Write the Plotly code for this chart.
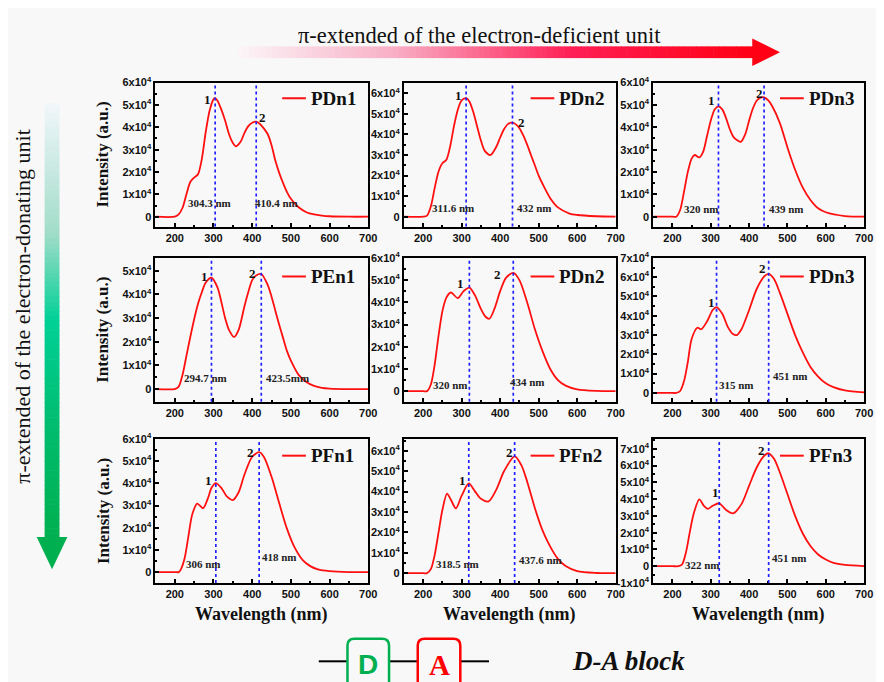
import plotly.graph_objects as go

# page body has an 8px margin: the figure is sized/shifted so that it fills the 884x682 window
OFF = 8
W, H = 884 - OFF, 682 - OFF

# ---------------- data (intensity in units of 1e4) ----------------
names = ["PDn1", "PDn2", "PDn3", "PEn1", "PDn2", "PDn3", "PFn1", "PFn2", "PFn3"]

wl_1 = [150, 200, 210, 220, 230, 240, 250, 260, 270, 280, 290, 300, 304, 310, 320, 330, 340, 350, 358, 370,
        380, 390, 400, 410, 420, 430, 440, 450, 460, 470, 480, 490, 500, 520, 540, 560, 580, 600, 650, 700]
int_1 = [0, 0, 0.1, 0.4, 1.0, 1.55, 1.75, 1.9, 2.6, 3.8, 4.75, 5.25, 5.3, 5.2, 4.8, 4.3, 3.7, 3.3, 3.15, 3.35,
         3.75, 4.05, 4.2, 4.25, 4.15, 3.95, 3.7, 3.2, 2.5, 1.95, 1.5, 1.1, 0.8, 0.42, 0.2, 0.1, 0.05, 0.02, 0, 0]

wl_2 = [150, 200, 210, 220, 230, 240, 250, 260, 270, 280, 290, 300, 311.6, 320, 330, 340, 350, 360, 375, 390,
        400, 410, 420, 432, 440, 450, 460, 470, 480, 490, 500, 510, 530, 550, 580, 600, 650, 700]
int_2 = [0, 0, 0.05, 0.5, 1.4, 2.2, 2.6, 2.75, 3.4, 4.4, 5.2, 5.65, 5.76, 5.6, 5.1, 4.4, 3.7, 3.2, 3.0, 3.4,
         3.85, 4.25, 4.5, 4.57, 4.5, 4.3, 3.95, 3.5, 3.0, 2.5, 2.0, 1.6, 0.9, 0.45, 0.15, 0.08, 0.02, 0]

wl_3 = [150, 200, 210, 220, 230, 240, 250, 258, 270, 280, 290, 300, 310, 320, 330, 340, 350, 360, 378, 390,
        400, 410, 420, 430, 439, 450, 460, 480, 500, 520, 540, 560, 580, 600, 650, 700]
int_3 = [0, 0, 0, 0.3, 1.1, 2.0, 2.6, 2.76, 2.65, 2.9, 3.6, 4.3, 4.8, 4.94, 4.8, 4.4, 3.9, 3.55, 3.35, 3.7,
         4.3, 4.85, 5.2, 5.33, 5.34, 5.2, 4.95, 4.2, 3.1, 2.1, 1.3, 0.75, 0.38, 0.2, 0.03, 0]

wl_4 = [150, 200, 210, 220, 230, 240, 250, 260, 270, 280, 294.7, 310, 320, 330, 340, 353, 365, 380, 390, 400,
        410, 423.5, 440, 450, 460, 470, 480, 490, 500, 520, 540, 560, 580, 600, 650, 700]
int_4 = [0, 0, 0.1, 0.6, 1.4, 2.2, 2.95, 3.6, 4.1, 4.5, 4.7, 4.3, 3.7, 3.0, 2.5, 2.2, 2.5, 3.5, 4.1, 4.6,
         4.8, 4.86, 4.4, 3.9, 3.3, 2.7, 2.15, 1.6, 1.2, 0.6, 0.3, 0.13, 0.05, 0.02, 0, 0]

wl_5 = [150, 200, 210, 220, 230, 240, 250, 260, 272, 290, 305, 320, 335, 350, 362, 372, 385, 400, 415, 434,
        450, 470, 490, 510, 530, 550, 570, 600, 650, 700]
int_5 = [0, 0, 0, 0.3, 1.2, 2.5, 3.6, 4.2, 4.44, 4.19, 4.5, 4.66, 4.3, 3.7, 3.35, 3.26, 3.7, 4.5, 5.1, 5.32,
         5.0, 4.0, 2.8, 1.8, 1.0, 0.5, 0.25, 0.08, 0.01, 0]

wl_6 = [150, 200, 210, 220, 230, 240, 250, 265, 275, 290, 305, 315, 330, 345, 358, 368, 380, 400, 420, 440,
        451, 465, 480, 500, 520, 540, 560, 580, 600, 620, 650, 700]
int_6 = [0, 0, 0, 0.1, 0.6, 1.6, 2.8, 3.38, 3.3, 3.7, 4.3, 4.45, 4.1, 3.4, 3.05, 3.0, 3.3, 4.3, 5.4, 6.05,
         6.17, 5.9, 5.2, 4.1, 3.0, 2.1, 1.35, 0.85, 0.5, 0.3, 0.13, 0.03]

wl_7 = [150, 200, 210, 215, 225, 235, 245, 258, 273, 285, 295, 306, 320, 335, 350, 365, 380, 400, 418, 430,
        450, 470, 490, 510, 530, 550, 570, 600, 650, 700]
int_7 = [0, 0, 0, 0.1, 0.6, 1.6, 2.6, 3.09, 2.88, 3.3, 3.8, 4.01, 3.8, 3.4, 3.25, 3.6, 4.4, 5.2, 5.41, 5.2,
         4.3, 3.1, 1.95, 1.1, 0.55, 0.27, 0.12, 0.04, 0, 0]

wl_8 = [150, 200, 210, 220, 230, 240, 250, 262, 272, 285, 300, 318.5, 335, 350, 370, 390, 410, 437.6, 455, 470,
        490, 510, 530, 550, 570, 600, 650, 700]
int_8 = [0, 0, 0, 0.2, 0.9, 2.0, 3.1, 3.9, 3.6, 3.18, 3.8, 4.4, 4.0, 3.65, 3.52, 4.1, 5.0, 5.73, 5.3, 4.5,
         3.2, 2.1, 1.3, 0.7, 0.35, 0.1, 0.01, 0]

wl_9 = [150, 200, 215, 225, 235, 245, 255, 270, 282, 292, 305, 322, 340, 358, 380, 400, 420, 440, 451, 465,
        480, 500, 520, 540, 560, 580, 600, 620, 650, 700]
int_9 = [0, 0, 0, 0.1, 0.8, 2.0, 3.1, 3.98, 3.6, 3.42, 3.6, 3.75, 3.35, 3.15, 3.7, 4.8, 5.9, 6.6, 6.73, 6.4,
         5.6, 4.3, 3.0, 1.95, 1.2, 0.7, 0.4, 0.2, 0.08, 0.01]

wavelengths = [wl_1, wl_2, wl_3, wl_4, wl_5, wl_6, wl_7, wl_8, wl_9]
intensities = [int_1, int_2, int_3, int_4, int_5, int_6, int_7, int_8, int_9]

peak1_nm = [304.3, 311.6, 320, 294.7, 320, 315, 306, 318.5, 322]
peak2_nm = [410.4, 432, 439, 423.5, 434, 451, 418, 437.6, 451]
peak1_text = ["304.3 nm", "311.6 nm", "320 nm", "294.7 nm", "320 nm", "315 nm", "306 nm", "318.5 nm", "322 nm"]
peak2_text = ["410.4 nm", "432 nm", "439 nm", "423.5mm", "434 nm", "451 nm", "418 nm", "437.6 nm", "451 nm"]

y_tick_min = [0, 0, 0, 0, 0, 0, 0, 0, -1]
y_tick_max = [6, 6, 6, 5, 6, 7, 6, 6, 7]
x_ticks = [200, 300, 400, 500, 600, 700]

# ---------------- layout geometry (window pixels) ----------------
col_px = [(157, 372), (408, 622), (660, 873)]
row_px = [(76, 223), (255, 402), (440, 587)]
y_ranges = [(-0.44, 6.0), (-0.48, 6.52), (-0.44, 6.0),
            (-0.54, 5.54), (-0.48, 6.0), (-0.46, 7.0),
            (-0.49, 6.0), (-0.48, 6.58), (-1.0, 7.58)]
lab1_pos = [(290, 0.26), (278, 0.05), (277, 0.0), (280, 0.14), (272, -0.1), (368, 0.0), (274, 0.0), (288, 0.08), (278, -0.38)]
lab2_pos = [(463, 0.26), (488, 0.05), (497, 0.0), (490, 0.14), (472, 0.03), (508, 0.45), (470, 0.34), (505, 0.24), (505, 0.0)]
num1_pos = [(284, 5.26), (291, 5.87), (303, 5.22), (277, 4.77), (296, 4.85), (303, 4.7), (288, 4.13), (303, 4.55), (312, 4.38)]
num2_pos = [(427, 4.46), (456, 4.6), (427, 5.49), (400, 4.9), (392, 5.25), (436, 6.43), (395, 5.41), (424, 5.94), (432, 6.88)]
legend_dy = [16, 19, 17]


def px(x):
    return (x - OFF) / W


def py(y):
    return 1 - (y - OFF) / H


SERIF = "Liberation Serif"
SANS = "Liberation Sans"

fig = go.Figure()
shapes = []
annotations = []


def paper_text(x, y, text, size, family=SERIF, color="#111", angle=0, xanchor="center"):
    annotations.append(dict(x=px(x), y=py(y), xref="paper", yref="paper", text=text, showarrow=False,
                            xanchor=xanchor, yanchor="middle", textangle=angle,
                            font=dict(family=family, size=size, color=color)))


for k in range(9):
    r, c = divmod(k, 3)
    s = "" if k == 0 else str(k + 1)
    xa, ya = "x" + s, "y" + s
    fig.add_trace(go.Scatter(
        x=wavelengths[k], y=intensities[k], mode="lines",
        line=dict(color="#ff1010", width=1.8, shape="spline", smoothing=0.8),
        xaxis=xa, yaxis=ya, showlegend=False, hoverinfo="skip"))

    x0, x1 = col_px[c]
    y0, y1 = row_px[r]
    yt = list(range(y_tick_min[k], y_tick_max[k] + 1))
    ytxt = ["0" if v == 0 else f"{v}x10<sup>4</sup>" for v in yt]
    axis_common = dict(showline=True, linecolor="black", linewidth=2, mirror=True,
                       ticks="inside", ticklen=4, tickwidth=1.5, tickcolor="black",
                       showgrid=False, zeroline=False,
                       tickfont=dict(family=SANS, size=11, color="#111", weight="bold"))
    fig.update_layout(**{
        "xaxis" + s: dict(domain=[px(x0), px(x1)], anchor=ya, range=[150, 700],
                          tickmode="array", tickvals=x_ticks,
                          minor=dict(tickmode="linear", tick0=150, dtick=50, ticks="inside",
                                     ticklen=2, tickcolor="black"),
                          **axis_common),
        "yaxis" + s: dict(domain=[py(y1), py(y0)], anchor=xa, range=list(y_ranges[k]),
                          tickmode="array", tickvals=yt, ticktext=ytxt,
                          minor=dict(tickmode="linear", tick0=0, dtick=0.5, ticks="inside",
                                     ticklen=2, tickcolor="black"),
                          **axis_common),
    })

    for p in (peak1_nm[k], peak2_nm[k]):
        shapes.append(dict(type="line", xref=xa, yref=ya + " domain", x0=p, x1=p, y0=0, y1=1,
                           line=dict(color="#2020ff", width=1.7, dash="dot")))
    for (tx, (lx, ly)) in ((peak1_text[k], lab1_pos[k]), (peak2_text[k], lab2_pos[k])):
        annotations.append(dict(x=lx, y=ly, xref=xa, yref=ya, text=f"<b>{tx}</b>", showarrow=False,
                                font=dict(family=SERIF, size=11, color="#222"), yanchor="bottom"))
    for (tx, (lx, ly)) in (("1", num1_pos[k]), ("2", num2_pos[k])):
        annotations.append(dict(x=lx, y=ly, xref=xa, yref=ya, text=f"<b>{tx}</b>", showarrow=False,
                                font=dict(family=SERIF, size=13, color="#111")))
    # in-panel legend
    ly_px = y0 + legend_dy[r]
    shapes.append(dict(type="line", xref="paper", yref="paper", x0=px(x0 + 128), x1=px(x0 + 152),
                       y0=py(ly_px), y1=py(ly_px), line=dict(color="#ff1010", width=2)))
    paper_text(x0 + 155, ly_px, f"<b>{names[k]}</b>", 19, xanchor="left")

# axis titles
for r in range(3):
    paper_text(104, (row_px[r][0] + row_px[r][1]) / 2, "<b>Intensity (a.u.)</b>", 17, angle=-90)
for c in range(3):
    paper_text((col_px[c][0] + col_px[c][1]) / 2, 619, "<b>Wavelength (nm)</b>", 18)


# ---------------- decorative gradient arrows ----------------
def lerp_color(stops, t):
    for i in range(len(stops) - 1):
        t0, c0 = stops[i]
        t1, c1 = stops[i + 1]
        if t0 <= t <= t1:
            f = (t - t0) / (t1 - t0) if t1 > t0 else 0
            return "rgb(%d,%d,%d)" % tuple(round(a + (b - a) * f) for a, b in zip(c0, c1))
    return "rgb(%d,%d,%d)" % stops[-1][1]


N = 90
h_stops = [(0, (252, 244, 247)), (0.3, (248, 175, 198)), (0.65, (255, 30, 85)), (1.0, (255, 0, 20))]
hx0, hx1, hy0, hy1 = 240, 761, 39, 51
for i in range(N):
    a = hx0 + (hx1 - hx0) * i / N
    b = hx0 + (hx1 - hx0) * (i + 1) / N + 0.6
    shapes.append(dict(type="rect", xref="paper", yref="paper", x0=px(a), x1=px(b), y0=py(hy1), y1=py(hy0),
                       line=dict(width=0), fillcolor=lerp_color(h_stops, i / (N - 1)), layer="below"))
shapes.append(dict(type="path", xref="paper", yref="paper",
                   path=f"M {px(760)},{py(31)} L {px(788)},{py(45)} L {px(760)},{py(59)} Z",
                   fillcolor="rgb(255,0,20)", line=dict(width=0), layer="below"))

v_stops = [(0, (240, 246, 250)), (0.3, (160, 220, 200)), (0.5, (0, 208, 150)), (0.75, (0, 188, 110)), (1.0, (0, 176, 80))]
vx0, vx1, vy0, vy1 = 45, 60, 97, 541
for i in range(N):
    a = vy0 + (vy1 - vy0) * i / N
    b = vy0 + (vy1 - vy0) * (i + 1) / N + 0.6
    shapes.append(dict(type="rect", xref="paper", yref="paper", x0=px(vx0), x1=px(vx1), y0=py(b), y1=py(a),
                       line=dict(width=0), fillcolor=lerp_color(v_stops, i / (N - 1)), layer="below"))
shapes.append(dict(type="path", xref="paper", yref="paper",
                   path=f"M {px(37)},{py(540)} L {px(68)},{py(540)} L {px(52.5)},{py(573)} Z",
                   fillcolor="rgb(0,176,80)", line=dict(width=0), layer="below"))

paper_text(484, 28, "\u03c0-extended of the electron-deficient unit", 22.5)
paper_text(23, 305, "\u03c0-extended of the electron-donating unit", 22, angle=-90)


# ---------------- D-A block ----------------
def rounded_box(xa, xb, ya, yb, rr):
    return (f"M {px(xa + rr)},{py(ya)} L {px(xb - rr)},{py(ya)} Q {px(xb)},{py(ya)} {px(xb)},{py(ya + rr)} "
            f"L {px(xb)},{py(yb - rr)} Q {px(xb)},{py(yb)} {px(xb - rr)},{py(yb)} "
            f"L {px(xa + rr)},{py(yb)} Q {px(xa)},{py(yb)} {px(xa)},{py(yb - rr)} "
            f"L {px(xa)},{py(ya + rr)} Q {px(xa)},{py(ya)} {px(xa + rr)},{py(ya)} Z")


for (a, b) in ((322, 351), (393, 422), (465, 494)):
    shapes.append(dict(type="line", xref="paper", yref="paper", x0=px(a), x1=px(b), y0=py(667), y1=py(667),
                       line=dict(color="black", width=2)))
shapes.append(dict(type="path", xref="paper", yref="paper", path=rounded_box(351, 393, 644, 715, 7),
                   line=dict(color="#00b050", width=2.5), fillcolor="rgba(0,0,0,0)"))
shapes.append(dict(type="path", xref="paper", yref="paper", path=rounded_box(422, 465, 644, 715, 7),
                   line=dict(color="#ff0000", width=2.5), fillcolor="rgba(0,0,0,0)"))
paper_text(372, 670, "<b>D</b>", 28, family=SANS, color="#00b050")
paper_text(443.5, 671, "<b>A</b>", 29, color="#ff0000")
paper_text(635, 667, "<b><i>D-A block</i></b>", 27)

fig.update_layout(width=W, height=H, margin=dict(l=0, r=0, t=0, b=0),
                  paper_bgcolor="#f8f8f8", plot_bgcolor="rgba(0,0,0,0)",
                  shapes=shapes, annotations=annotations, showlegend=False)

fig.write_html("out.html")
